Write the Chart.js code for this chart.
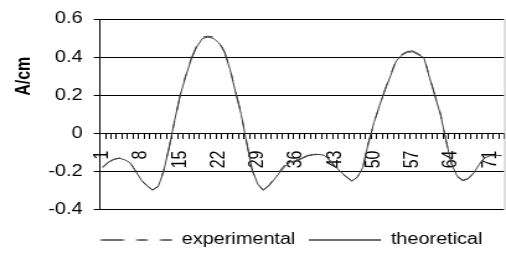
<!DOCTYPE html>
<html lang="en">
<head>
    <meta charset="UTF-8">
    <title>experimental vs theoretical</title>
    <script src="https://cdn.jsdelivr.net/npm/chart.js@4"></script>
    <style>
        html, body { margin: 0; padding: 0; background: #fff; overflow: hidden; }
        /* the original picture is stretched sideways, so draw narrow and scale in x */
        #wrap { width: 408px; height: 258px; transform: scaleX(1.2402); transform-origin: 0 0; }
    </style>
</head>
<body>
    <div id="wrap"><canvas id="chart" width="408" height="258"></canvas></div>

    <script>
        // categories 1..73
        const categories = Array.from({ length: 73 }, (_, i) => String(i + 1));

        const theoretical = [
            -0.175, -0.150, -0.135, -0.130, -0.138, -0.155, -0.200, -0.245, -0.272, -0.295,
            -0.280, -0.200, -0.070, 0.070, 0.200, 0.300, 0.390, 0.455, 0.498, 0.505,
            0.498, 0.475, 0.425, 0.335, 0.215, 0.100, -0.050, -0.190, -0.265, -0.295,
            -0.275, -0.240, -0.203, -0.170, -0.148, -0.143, -0.132, -0.118, -0.112, -0.110,
            -0.114, -0.140, -0.172, -0.202, -0.227, -0.248, -0.230, -0.176, -0.047, 0.058,
            0.147, 0.229, 0.304, 0.380, 0.410, 0.425, 0.428, 0.412, 0.398, 0.295,
            0.197, 0.100, -0.037, -0.162, -0.222, -0.245, -0.236, -0.207, -0.163, -0.128,
            -0.117, -0.115, -0.115
        ];

        const experimental = [
            -0.180, -0.152, -0.137, -0.128, -0.136, -0.158, -0.198, -0.248, -0.275, -0.298,
            -0.276, -0.195, -0.075, 0.065, 0.205, 0.305, 0.395, 0.462, 0.505, 0.510,
            0.506, 0.483, 0.430, 0.340, 0.220, 0.105, -0.045, -0.195, -0.268, -0.298,
            -0.272, -0.234, -0.195, -0.160, -0.140, -0.138, -0.128, -0.115, -0.110, -0.108,
            -0.116, -0.142, -0.175, -0.205, -0.228, -0.250, -0.228, -0.172, -0.050, 0.055,
            0.145, 0.232, 0.310, 0.386, 0.415, 0.430, 0.433, 0.418, 0.402, 0.300,
            0.200, 0.105, -0.035, -0.160, -0.225, -0.248, -0.238, -0.205, -0.160, -0.125,
            -0.115, -0.113, -0.117
        ];

        const yMin = -0.4, yMax = 0.6, yStep = 0.2;
        const labelEvery = 7;

        const fontFamily = '"Liberation Sans", Arial, sans-serif';
        const lineColor = '#404040';

        // y axis title, grey right edge of the plot, legend row under the plot's left edge
        const extras = {
            id: 'extras',
            afterLayout(chart) {
                const lg = chart.legend;
                lg.left = chart.chartArea.left - lg.options.labels.padding;
            },
            afterDraw(chart) {
                const { ctx, chartArea } = chart;
                ctx.save();
                ctx.strokeStyle = '#bfbfbf';
                ctx.lineWidth = 1;
                ctx.beginPath();
                ctx.moveTo(chartArea.right + 0.5, chartArea.top);
                ctx.lineTo(chartArea.right + 0.5, chartArea.bottom);
                ctx.stroke();

                ctx.translate(20, chartArea.top + (chartArea.bottom - chartArea.top) * 0.3);
                ctx.rotate(-Math.PI / 2);
                ctx.font = 'bold 16px ' + fontFamily;
                ctx.fillStyle = '#000';
                ctx.textAlign = 'center';
                ctx.textBaseline = 'middle';
                ctx.fillText('A/cm', 0, 0);
                ctx.restore();
            }
        };

        new Chart(document.getElementById('chart'), {
            type: 'line',
            data: {
                labels: categories,
                datasets: [{
                    label: 'experimental',
                    data: experimental,
                    borderColor: lineColor,
                    backgroundColor: 'rgba(0,0,0,0)',
                    borderWidth: 1,
                    borderDash: [18, 11, 8, 11],
                    pointRadius: 0,
                    tension: 0
                }, {
                    label: 'theoretical',
                    data: theoretical,
                    borderColor: lineColor,
                    backgroundColor: 'rgba(0,0,0,0)',
                    borderWidth: 1,
                    pointRadius: 0,
                    tension: 0
                }]
            },
            options: {
                responsive: false,
                animation: false,
                layout: { padding: { left: 30, right: 1.5, top: 19, bottom: 0 } },
                scales: {
                    x: {
                        type: 'category',
                        position: { y: 0 },
                        offset: true,
                        afterFit(scale) {
                            scale.paddingLeft = 0;
                            scale.paddingRight = 0;
                        },
                        grid: { offset: true, drawOnChartArea: false, drawTicks: true, tickLength: 5, color: '#000' },
                        border: { color: '#000' },
                        ticks: {
                            autoSkip: false,
                            minRotation: 90,
                            maxRotation: 90,
                            padding: 12,
                            color: '#000',
                            font: { family: fontFamily, size: 16 },
                            callback: (v, i) => (i % labelEvery === 0 ? categories[i] : '')
                        }
                    },
                    y: {
                        min: yMin,
                        max: yMax,
                        grid: { color: '#000', lineWidth: 1, tickLength: 5 },
                        border: { color: '#000' },
                        ticks: {
                            stepSize: yStep,
                            padding: 9,
                            color: '#000',
                            font: { family: fontFamily, size: 16 }
                        }
                    }
                },
                plugins: {
                    tooltip: { enabled: false },
                    legend: {
                        position: 'bottom',
                        align: 'start',
                        // empty title only pushes the legend row down
                        title: { display: true, text: '', font: { size: 1 }, padding: { top: 10, bottom: 0 } },
                        labels: {
                            boxWidth: 58,
                            boxHeight: 0,
                            padding: 11,
                            color: '#000',
                            font: { family: fontFamily, size: 16 }
                        }
                    }
                }
            },
            plugins: [extras]
        });
    </script>
</body>
</html>
